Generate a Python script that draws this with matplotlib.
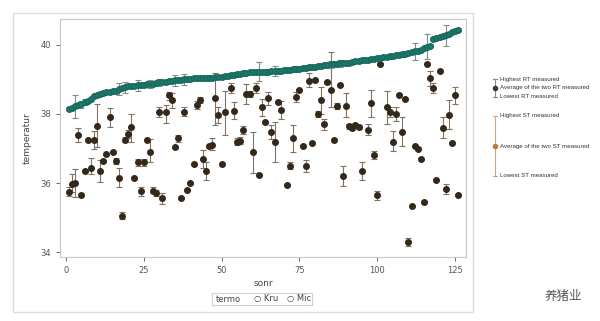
import numpy as np
import matplotlib.pyplot as plt
from matplotlib.patches import Rectangle
from matplotlib.lines import Line2D

# Kru series (sorted), one value per subject
kru_sonr = list(range(1, 127))
kru_mean = [
    38.15, 38.18, 38.22, 38.26, 38.28, 38.35, 38.38, 38.42, 38.52, 38.55,
    38.58, 38.62, 38.64, 38.65, 38.66, 38.68, 38.72, 38.75, 38.77, 38.80,
    38.80, 38.82, 38.83, 38.84, 38.85, 38.86, 38.87, 38.88, 38.90, 38.92,
    38.93, 38.94, 38.95, 38.96, 38.97, 38.98, 38.99, 39.00, 39.01, 39.02,
    39.03, 39.03, 39.03, 39.04, 39.04, 39.05, 39.05, 39.06, 39.06, 39.08,
    39.10, 39.11, 39.12, 39.13, 39.15, 39.17, 39.19, 39.20, 39.21, 39.22,
    39.22, 39.23, 39.23, 39.23, 39.23, 39.24, 39.24, 39.24, 39.25, 39.26,
    39.27, 39.28, 39.29, 39.30, 39.31, 39.33, 39.34, 39.35, 39.36, 39.37,
    39.39, 39.40, 39.42, 39.43, 39.44, 39.45, 39.46, 39.47, 39.48, 39.49,
    39.49, 39.50, 39.52, 39.53, 39.55, 39.56, 39.57, 39.58, 39.60, 39.62,
    39.63, 39.64, 39.65, 39.67, 39.68, 39.70, 39.71, 39.73, 39.75, 39.77,
    39.79, 39.81, 39.83, 39.86, 39.90, 39.95, 39.98, 40.18, 40.20, 40.22,
    40.25, 40.28, 40.32, 40.36, 40.40, 40.44,
]
kru_err = [
    0.04, 0.04, 0.33, 0.04, 0.10, 0.08, 0.04, 0.04, 0.04, 0.04,
    0.04, 0.04, 0.04, 0.04, 0.04, 0.04, 0.17, 0.04, 0.15, 0.04,
    0.04, 0.04, 0.15, 0.04, 0.04, 0.04, 0.12, 0.04, 0.04, 0.10,
    0.04, 0.04, 0.04, 0.04, 0.15, 0.04, 0.04, 0.17, 0.04, 0.04,
    0.04, 0.04, 0.04, 0.04, 0.04, 0.08, 0.04, 0.04, 0.04, 0.04,
    0.04, 0.04, 0.04, 0.04, 0.04, 0.04, 0.04, 0.04, 0.04, 0.04,
    0.04, 0.28, 0.04, 0.04, 0.04, 0.04, 0.15, 0.04, 0.04, 0.04,
    0.04, 0.04, 0.04, 0.08, 0.04, 0.04, 0.04, 0.08, 0.04, 0.04,
    0.04, 0.04, 0.04, 0.04, 0.10, 0.04, 0.04, 0.10, 0.04, 0.04,
    0.04, 0.04, 0.04, 0.04, 0.04, 0.04, 0.04, 0.04, 0.04, 0.04,
    0.04, 0.04, 0.04, 0.08, 0.04, 0.04, 0.04, 0.04, 0.04, 0.04,
    0.04, 0.25, 0.04, 0.04, 0.04, 0.36, 0.04, 0.04, 0.04, 0.04,
    0.04, 0.30, 0.04, 0.04, 0.04, 0.04,
]

# Mic series (only the points visible in the picture)
mic_sonr = [
    1, 2, 3, 4, 5, 6, 7, 8, 9, 10, 11, 12, 13, 14, 15, 16, 17, 18, 19, 20,
    21, 22, 23, 24, 25, 26, 27, 28, 29, 30, 31, 32, 33, 34, 35, 36, 37, 38, 39, 40,
    41, 42, 43, 44, 45, 46, 47, 48, 49, 50, 51, 53, 54, 55, 56, 57, 58, 59, 60, 61,
    62, 63, 64, 65, 66, 67, 68, 69, 71, 72, 73, 74, 75, 76, 77, 78, 79, 80, 81, 82,
    83, 84, 85, 86, 87, 88, 89, 90, 91, 92, 93, 94, 95, 97, 98, 99, 100, 101, 103, 104,
    105, 106, 107, 108, 109, 110, 111, 112, 113, 114, 115, 116, 117, 118, 119, 120, 121, 122, 123, 124,
    125, 126,
]
mic_mean = [
    35.75, 35.96, 35.99, 37.40, 35.65, 36.35, 37.25, 36.45, 37.25, 37.64,
    36.35, 36.63, 36.85, 37.90, 36.89, 36.63, 36.16, 35.04, 37.26, 37.42,
    37.61, 36.14, 36.60, 35.76, 36.60, 37.26, 36.89, 35.78, 35.71, 38.05,
    35.56, 38.05, 38.55, 38.40, 37.05, 37.30, 35.56, 38.05, 35.79, 35.99,
    36.55, 38.25, 38.41, 36.70, 36.36, 37.06, 37.10, 38.45, 37.98, 36.55,
    38.05, 38.75, 38.10, 37.20, 37.22, 37.54, 38.58, 38.58, 36.89, 38.75,
    36.24, 38.19, 37.76, 38.45, 37.47, 37.20, 38.34, 38.12, 35.95, 36.50,
    37.30, 38.50, 38.70, 37.08, 36.50, 38.96, 37.15, 38.99, 38.00, 38.41,
    37.71, 38.92, 38.70, 37.25, 38.24, 38.84, 36.21, 38.24, 37.64, 37.60,
    37.68, 37.62, 36.34, 37.55, 38.31, 36.81, 35.65, 39.45, 38.19, 38.05,
    37.20, 38.00, 38.55, 37.47, 38.43, 34.30, 35.34, 37.08, 37.00, 36.70,
    35.44, 39.45, 39.03, 38.75, 36.10, 39.24, 37.60, 35.83, 37.98, 37.15,
    38.55, 35.65,
]
mic_low = [
    35.62, 35.75, 35.60, 37.20, 35.62, 36.32, 37.22, 36.25, 37.00, 37.04,
    36.02, 36.60, 36.82, 37.62, 36.86, 36.55, 35.90, 34.95, 37.20, 37.30,
    37.18, 36.12, 36.50, 35.62, 36.50, 37.23, 36.60, 35.70, 35.64, 37.90,
    35.40, 37.73, 38.40, 38.16, 37.02, 37.20, 35.53, 37.93, 35.76, 35.96,
    36.52, 38.15, 38.33, 36.45, 36.10, 37.02, 36.95, 37.68, 37.75, 36.52,
    37.39, 38.60, 37.85, 37.10, 37.12, 37.42, 38.29, 38.50, 36.29, 38.60,
    36.21, 37.95, 37.73, 38.25, 37.27, 36.60, 38.31, 37.85, 35.92, 36.40,
    36.90, 38.35, 38.67, 37.05, 36.33, 38.78, 37.12, 38.96, 37.92, 38.00,
    37.55, 38.88, 38.20, 37.22, 38.15, 38.81, 35.92, 37.90, 37.58, 37.55,
    37.62, 37.57, 36.08, 37.40, 37.90, 36.70, 35.50, 39.42, 37.71, 37.90,
    36.92, 37.80, 38.52, 37.08, 38.40, 34.18, 35.31, 37.05, 36.97, 36.67,
    35.41, 39.42, 38.80, 38.60, 36.07, 39.21, 37.30, 35.68, 37.57, 37.12,
    38.30, 35.62,
]
mic_high = [
    35.88, 36.25, 36.40, 37.60, 35.68, 36.38, 37.28, 36.72, 37.50, 38.29,
    36.68, 36.66, 36.88, 38.18, 36.92, 36.72, 36.45, 35.15, 37.32, 37.55,
    38.00, 36.17, 36.70, 35.90, 36.70, 37.29, 37.27, 35.88, 35.80, 38.20,
    35.70, 38.26, 38.65, 38.60, 37.08, 37.40, 35.59, 38.20, 35.82, 36.02,
    36.58, 38.37, 38.50, 36.95, 36.60, 37.10, 37.30, 39.20, 38.20, 36.58,
    38.68, 38.90, 38.35, 37.30, 37.32, 37.65, 38.87, 38.66, 37.47, 38.90,
    36.27, 38.43, 37.79, 38.65, 37.67, 37.77, 38.37, 38.38, 35.98, 36.60,
    37.68, 38.65, 38.73, 37.11, 36.68, 39.18, 37.18, 39.02, 38.08, 38.78,
    37.85, 38.96, 39.80, 37.28, 38.33, 38.87, 36.50, 38.60, 37.70, 37.65,
    37.74, 37.67, 36.60, 37.70, 38.70, 36.93, 35.78, 39.48, 38.68, 38.20,
    37.50, 38.20, 38.58, 37.91, 38.46, 34.42, 35.37, 37.11, 37.03, 36.73,
    35.47, 39.48, 39.25, 38.90, 36.13, 39.27, 37.90, 35.97, 38.40, 37.18,
    38.78, 35.68,
]

y_ticks = [34, 36, 38, 40]
x_ticks = [0, 25, 50, 75, 100, 125]

fig = plt.figure(figsize=(6, 3.21), dpi=100)
W, H = 600, 321

# outer panel border
fig.add_artist(Rectangle((13 / W, 1 - 312 / H), 460 / W, 299 / H,
                         transform=fig.transFigure, fill=False,
                         edgecolor='#dcdcdc', lw=1.0))

ax = fig.add_axes([60 / W, 1 - 257 / H, 406 / W, 238 / H])

m = np.array(mic_mean)
ax.errorbar(mic_sonr, m, yerr=[m - np.array(mic_low), np.array(mic_high) - m],
            fmt='o', ms=4.0, color='#35281a', mfc='#35281a', mec='#35281a',
            ecolor='#7d7268', elinewidth=0.8, capsize=2.4, capthick=0.8, zorder=2)

ax.errorbar(kru_sonr, kru_mean, yerr=kru_err,
            fmt='o', ms=4.0, color='#1d7a6c', mfc='#1d7a6c', mec='#176a5d',
            ecolor='#7f8c88', elinewidth=0.8, capsize=2.4, capthick=0.8, zorder=3)

ax.set_xlim(-1.9, 128.5)
ax.set_ylim(33.86, 40.75)
ax.set_xticks(x_ticks)
ax.set_yticks(y_ticks)
ax.tick_params(labelsize=6, colors='#555555', length=3, width=0.6, direction='out')
for s in ax.spines.values():
    s.set_color('#c8c8c8')
    s.set_linewidth(0.8)
ax.set_xlabel('sonr', fontsize=6.5, color='#444444', labelpad=3)
ax.set_ylabel('temperatur', fontsize=6.5, color='#444444', labelpad=6)

# bottom legend
fig.add_artist(Rectangle((212 / W, 1 - 305 / H), 100 / W, 12 / H,
                         transform=fig.transFigure, fill=False,
                         edgecolor='#d0d0d0', lw=0.8))
fig.text(216 / W, 1 - 299 / H, 'termo', fontsize=6, color='#444444', va='center')
fig.text(254 / W, 1 - 299 / H, '○ Kru', fontsize=6, color='#444444', va='center')
fig.text(287 / W, 1 - 299 / H, '○ Mic', fontsize=6, color='#444444', va='center')

# right-side explanation key
def key_bar(y_top, y_mid, y_bot, line_c, dot_c):
    x = 495 / W
    fig.add_artist(Line2D([x, x], [1 - y_top / H, 1 - y_bot / H],
                          transform=fig.transFigure, color=line_c, lw=0.8))
    for y in (y_top, y_bot):
        fig.add_artist(Line2D([x - 2 / W, x + 2 / W], [1 - y / H, 1 - y / H],
                              transform=fig.transFigure, color=line_c, lw=0.8))
    fig.add_artist(Line2D([x], [1 - y_mid / H], transform=fig.transFigure,
                          marker='o', ms=3, color=dot_c, lw=0))

key_bar(79, 88, 97, '#8a8a80', '#3a3a2a')
key_bar(116, 146, 176, '#c9a882', '#c0783a')
key_text = [
    (79, 'Highest RT measured'),
    (88, 'Average of the two RT measured'),
    (97, 'Lowest RT measured'),
    (116, 'Highest ST measured'),
    (146, 'Average of the two ST measured'),
    (176, 'Lowest ST measured'),
]
for y, t in key_text:
    fig.text(500 / W, 1 - y / H, t, fontsize=4.4, color='#333333',
             va='center', family='Liberation Sans')

# watermark
fig.text(545 / W, 1 - 296 / H, '养猪业', fontsize=9, color='#555555',
         va='center', family=['Noto Sans CJK SC', 'DejaVu Sans'])

fig.savefig('out.png', dpi=100)
